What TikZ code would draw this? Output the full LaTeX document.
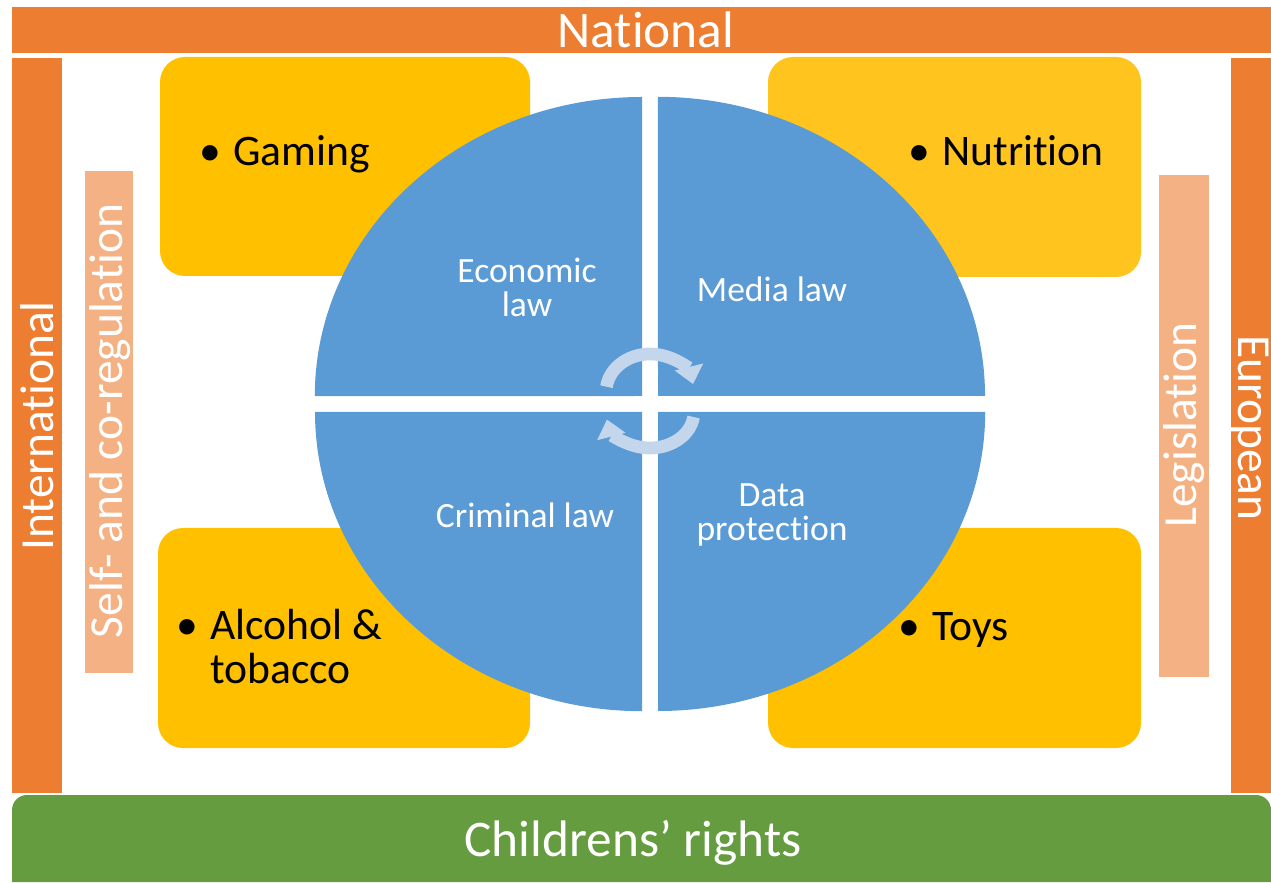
\documentclass[tikz,border=0pt]{standalone}
\usepackage{fontspec}
\setmainfont{Carlito}[Ligatures=NoCommon]
\usetikzlibrary{arrows.meta}

\definecolor{natorange}{HTML}{ED7D31}
\definecolor{softorange}{HTML}{F4B183}
\definecolor{boxyellow}{HTML}{FFC000}
\definecolor{lightyellow}{HTML}{FFC41E}
\definecolor{rightsgreen}{HTML}{649C3F}
\definecolor{lawblue}{HTML}{5B9BD5}
\definecolor{cyclegray}{HTML}{C3D6EC}

\tikzset{
    bar/.style={fill=natorange},
    softbar/.style={fill=softorange},
    barlabel/.style={text=white, inner sep=0pt, font=\fontsize{14.6}{17}\selectfont},
    sidelabel/.style={text=white, inner sep=0pt, font=\fontsize{13.5}{16}\selectfont},
    topicbox/.style={rounded corners=0.25cm},
    topic/.style={anchor=west, inner sep=0pt, font=\fontsize{12.4}{12.4}\selectfont},
    lawlabel/.style={text=white, align=center, inner sep=0pt, font=\fontsize{10.1}{9.7}\selectfont},
    cyclearrow/.style={draw=cyclegray, line width=3.6pt, -{Triangle[width=8pt,length=5pt]}}
}

\begin{document}
\begin{tikzpicture}[x=0.01cm, y=0.01cm]
    \useasboundingbox (0,0) rectangle (1271,882);

    % outer frame
    \fill[bar] (12,829) rectangle (1271,875);
    \fill[bar] (12,89) rectangle (62,824);
    \fill[bar] (1231,89) rectangle (1271,824);
    \fill[rightsgreen] (12,0) [rounded corners=0.15cm] -- (12,87) -- (1271,87) [sharp corners] -- (1271,0) -- cycle;
    \fill[softbar] (85,209) rectangle (133,711);
    \fill[softbar] (1159,205) rectangle (1209,707);

    \node[barlabel] (national) at (646,852) {National};
    \node[barlabel] (rights) at (633,39) {Childrens’ rights};
    \node[sidelabel, rotate=90] (international) at (37,456) {International};
    \node[sidelabel, rotate=-90] (european) at (1250,454) {European};
    \node[sidelabel, rotate=90] (selfreg) at (110,461) {Self- and co-regulation};
    \node[sidelabel, rotate=90] (legislation) at (1184,457) {Legislation};

    % topic boxes
    \fill[topicbox, boxyellow] (160,606) rectangle (530,825);
    \fill[topicbox, lightyellow] (768,605) rectangle (1141,825);
    \fill[topicbox, boxyellow] (158,134) rectangle (530,354);
    \fill[topicbox, boxyellow] (768,134) rectangle (1141,354);

    \node[topic] (gaming) at (199,725)
        {\begin{tabular}{@{}l@{\hspace{3.4pt}}l@{}}\textbullet & Gaming\end{tabular}};
    \node[topic] (nutrition) at (908,725)
        {\begin{tabular}{@{}l@{\hspace{3.4pt}}l@{}}\textbullet & Nutrition\end{tabular}};
    \node[topic] (alcohol) at (176,229)
        {\begin{tabular}{@{}l@{\hspace{3.4pt}}l@{}}\textbullet & Alcohol \&\\ & tobacco\end{tabular}};
    \node[topic] (toys) at (898,250)
        {\begin{tabular}{@{}l@{\hspace{3.4pt}}l@{}}\textbullet & Toys\end{tabular}};

    % law quadrants
    \foreach \cx/\cy/\a in {658/486/0, 642/486/90, 642/470/180, 658/470/270} {
        \fill[lawblue] (\cx,\cy) -- ++(\a:327 and 299)
            arc[start angle=\a, delta angle=90, x radius=3.27cm, y radius=2.99cm] -- cycle;
    }

    \node[lawlabel] (economic) at (527,595) {Economic\\law};
    \node[lawlabel] (media) at (772,593) {Media law};
    \node[lawlabel] (criminal) at (525,367) {Criminal law};
    \node[lawlabel] (data) at (772,367) {Data\\protection};

    % cycle arrows
    \draw[cyclearrow] (650,490) ++(172:44 and 38)
        arc[start angle=172, end angle=12, x radius=0.44cm, y radius=0.38cm];
    \draw[cyclearrow] (650,470) ++(-8:44 and 36)
        arc[start angle=-8, end angle=-168, x radius=0.44cm, y radius=0.36cm];
\end{tikzpicture}
\end{document}
